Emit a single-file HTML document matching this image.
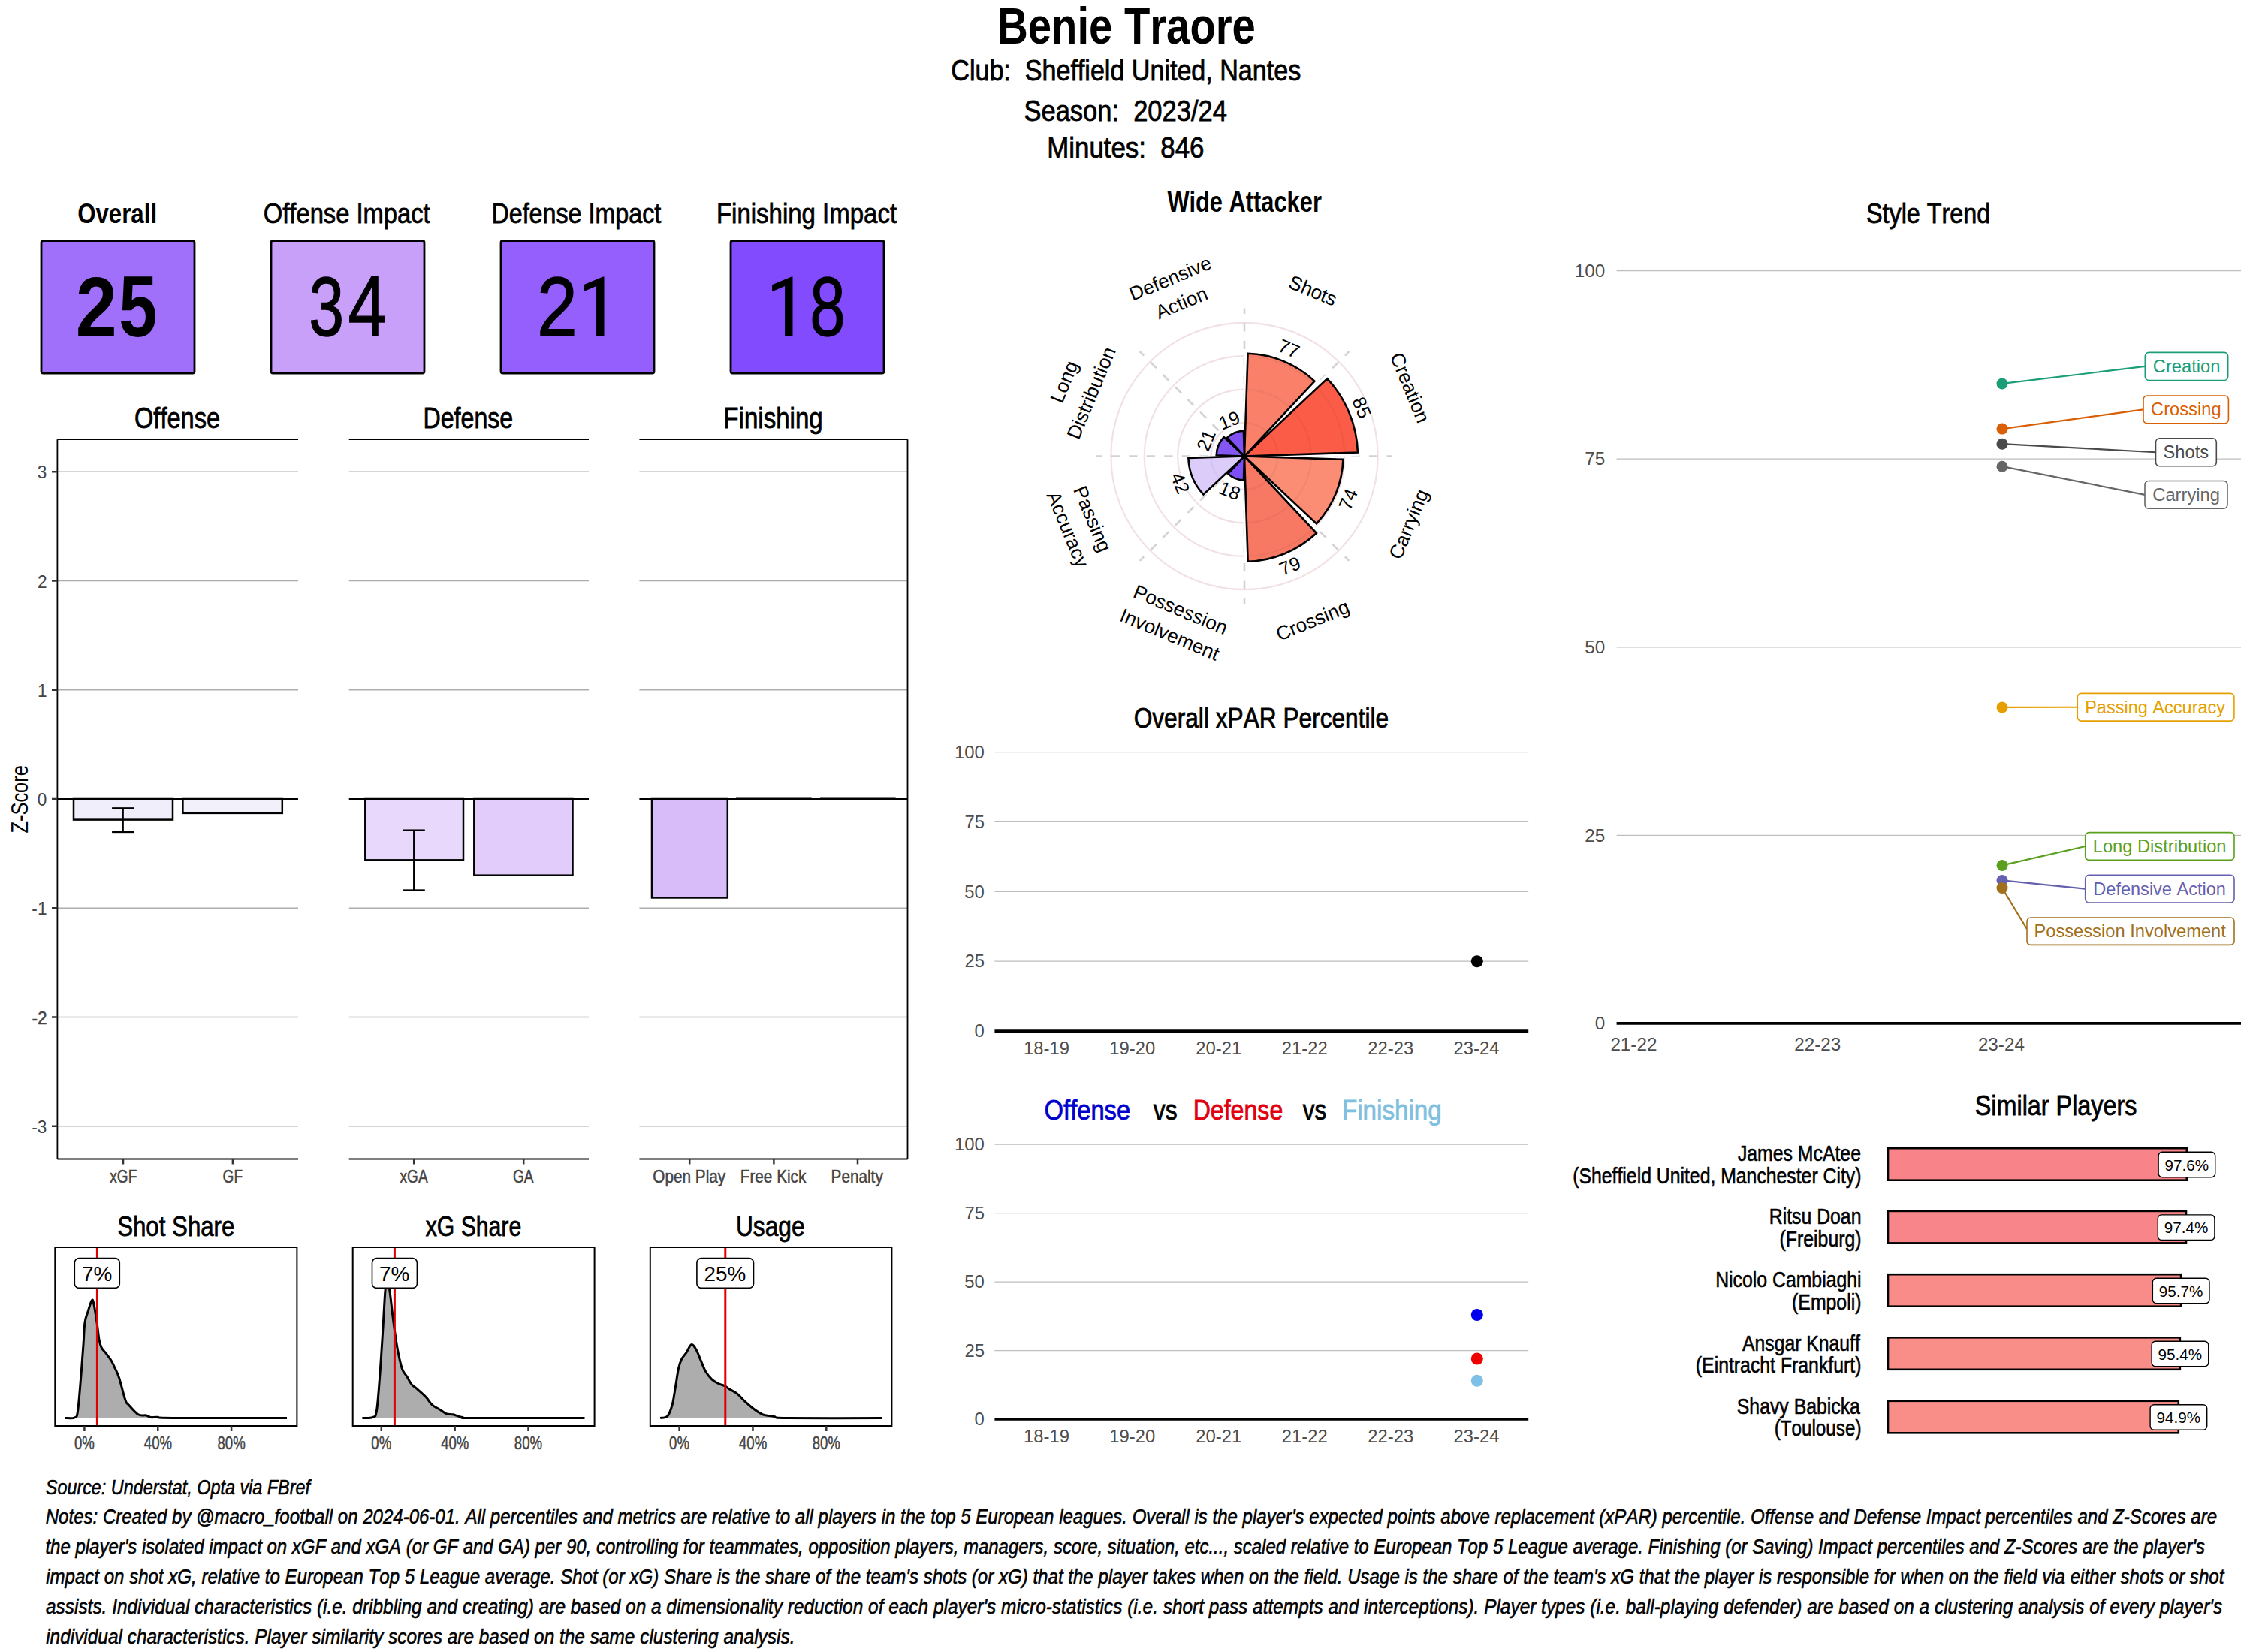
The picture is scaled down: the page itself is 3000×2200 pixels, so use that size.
<!DOCTYPE html>
<html><head><meta charset="utf-8"><style>
html,body{margin:0;padding:0;background:#fff;overflow:hidden;width:3000px;height:2200px;}
svg{display:block;}
text{font-family:"Liberation Sans", sans-serif;font-kerning:none;white-space:pre;}
</style></head><body>
<svg width="3000" height="2200" viewBox="0 0 3000 2200">
<rect width="3000" height="2200" fill="#fff"/>
<text x="1328.21" y="57.9" font-size="68.9" font-weight="bold" font-style="normal" fill="#000" textLength="343.67" lengthAdjust="spacingAndGlyphs" >Benie Traore</text>
<text x="1266.29" y="107" font-size="39.68" font-weight="normal" font-style="normal" fill="#000" textLength="465.95" lengthAdjust="spacingAndGlyphs"  stroke="#000" stroke-width="0.83">Club:  Sheffield United, Nantes</text>
<text x="1363.45" y="161" font-size="39.68" font-weight="normal" font-style="normal" fill="#000" textLength="270.41" lengthAdjust="spacingAndGlyphs"  stroke="#000" stroke-width="0.83">Season:  2023/24</text>
<text x="1394.21" y="210" font-size="39.68" font-weight="normal" font-style="normal" fill="#000" textLength="209.31" lengthAdjust="spacingAndGlyphs"  stroke="#000" stroke-width="0.83">Minutes:  846</text>
<rect x="55" y="320.5" width="204" height="176.5" rx="2.5" fill="#A070FA" stroke="#000" stroke-width="2.8" />
<text x="103.25" y="296.8" font-size="37.06" font-weight="bold" font-style="normal" fill="#000" textLength="105.81" lengthAdjust="spacingAndGlyphs" >Overall</text>
<text x="100.64" y="447.8" font-size="113.71" font-weight="bold" font-style="normal" fill="#000" textLength="55.04" lengthAdjust="spacingAndGlyphs" >2</text>
<text x="158.24" y="447.8" font-size="114.49" font-weight="bold" font-style="normal" fill="#000" textLength="51.17" lengthAdjust="spacingAndGlyphs" >5</text>
<rect x="361" y="320.5" width="204" height="176.5" rx="2.5" fill="#C8A0FA" stroke="#000" stroke-width="2.8" />
<text x="350.82" y="296.8" font-size="37.06" font-weight="normal" font-style="normal" fill="#000" textLength="221.83" lengthAdjust="spacingAndGlyphs"  stroke="#000" stroke-width="0.78">Offense Impact</text>
<text x="411.2" y="447.15" font-size="111.86" font-weight="normal" font-style="normal" fill="#000" textLength="46.81" lengthAdjust="spacingAndGlyphs"  stroke="#000" stroke-width="1.3">3</text>
<text x="463.4" y="447.15" font-size="112.61" font-weight="normal" font-style="normal" fill="#000" textLength="51.36" lengthAdjust="spacingAndGlyphs"  stroke="#000" stroke-width="1.3">4</text>
<rect x="667" y="320.5" width="204" height="176.5" rx="2.5" fill="#955FFD" stroke="#000" stroke-width="2.8" />
<text x="654.42" y="296.8" font-size="37.06" font-weight="normal" font-style="normal" fill="#000" textLength="225.85" lengthAdjust="spacingAndGlyphs"  stroke="#000" stroke-width="0.78">Defense Impact</text>
<text x="714.9" y="447.15" font-size="111.86" font-weight="normal" font-style="normal" fill="#000" textLength="53.91" lengthAdjust="spacingAndGlyphs"  stroke="#000" stroke-width="1.3">2</text>
<path d="M804.5,368.5 L804.5,447.8 L794.1,447.8 L794.1,381 L777.1,388.3 L777.1,379.3 L802.9,368.5 Z" fill="#000"/>
<rect x="973" y="320.5" width="204" height="176.5" rx="2.5" fill="#834BFE" stroke="#000" stroke-width="2.8" />
<text x="953.96" y="296.8" font-size="37.06" font-weight="normal" font-style="normal" fill="#000" textLength="240.13" lengthAdjust="spacingAndGlyphs"  stroke="#000" stroke-width="0.78">Finishing Impact</text>
<path d="M1055.5,368.5 L1055.5,447.8 L1045.1,447.8 L1045.1,381 L1028.1,388.3 L1028.1,379.3 L1053.9,368.5 Z" fill="#000"/>
<text x="1078.34" y="447.15" font-size="111.86" font-weight="normal" font-style="normal" fill="#000" textLength="47.42" lengthAdjust="spacingAndGlyphs"  stroke="#000" stroke-width="1.3">8</text>
<line x1="76.4" y1="628.25" x2="397" y2="628.25" stroke="#ADADAD" stroke-width="1.3" />
<line x1="76.4" y1="773.5" x2="397" y2="773.5" stroke="#ADADAD" stroke-width="1.3" />
<line x1="76.4" y1="918.75" x2="397" y2="918.75" stroke="#ADADAD" stroke-width="1.3" />
<line x1="76.4" y1="1209.25" x2="397" y2="1209.25" stroke="#ADADAD" stroke-width="1.3" />
<line x1="76.4" y1="1354.5" x2="397" y2="1354.5" stroke="#ADADAD" stroke-width="1.3" />
<line x1="76.4" y1="1499.75" x2="397" y2="1499.75" stroke="#ADADAD" stroke-width="1.3" />
<line x1="464.7" y1="628.25" x2="784" y2="628.25" stroke="#ADADAD" stroke-width="1.3" />
<line x1="464.7" y1="773.5" x2="784" y2="773.5" stroke="#ADADAD" stroke-width="1.3" />
<line x1="464.7" y1="918.75" x2="784" y2="918.75" stroke="#ADADAD" stroke-width="1.3" />
<line x1="464.7" y1="1209.25" x2="784" y2="1209.25" stroke="#ADADAD" stroke-width="1.3" />
<line x1="464.7" y1="1354.5" x2="784" y2="1354.5" stroke="#ADADAD" stroke-width="1.3" />
<line x1="464.7" y1="1499.75" x2="784" y2="1499.75" stroke="#ADADAD" stroke-width="1.3" />
<line x1="851.4" y1="628.25" x2="1208.5" y2="628.25" stroke="#ADADAD" stroke-width="1.3" />
<line x1="851.4" y1="773.5" x2="1208.5" y2="773.5" stroke="#ADADAD" stroke-width="1.3" />
<line x1="851.4" y1="918.75" x2="1208.5" y2="918.75" stroke="#ADADAD" stroke-width="1.3" />
<line x1="851.4" y1="1209.25" x2="1208.5" y2="1209.25" stroke="#ADADAD" stroke-width="1.3" />
<line x1="851.4" y1="1354.5" x2="1208.5" y2="1354.5" stroke="#ADADAD" stroke-width="1.3" />
<line x1="851.4" y1="1499.75" x2="1208.5" y2="1499.75" stroke="#ADADAD" stroke-width="1.3" />
<rect x="98" y="1064" width="132" height="27.6" rx="0" fill="#F0EEFA" stroke="#000" stroke-width="2.5" />
<rect x="243.4" y="1064" width="132.4" height="18.88" rx="0" fill="#F2F0FA" stroke="#000" stroke-width="2.5" />
<rect x="486.3" y="1064" width="130.7" height="81.34" rx="0" fill="#E8D8FC" stroke="#000" stroke-width="2.5" />
<rect x="631.3" y="1064" width="131.2" height="101.67" rx="0" fill="#E2CCFB" stroke="#000" stroke-width="2.5" />
<rect x="868" y="1064" width="100.8" height="131.45" rx="0" fill="#D8BCFA" stroke="#000" stroke-width="2.5" />
<line x1="980" y1="1064" x2="1080.6" y2="1064" stroke="#000" stroke-width="3" />
<line x1="1092" y1="1064" x2="1192.6" y2="1064" stroke="#000" stroke-width="3" />
<line x1="76.4" y1="1064" x2="397" y2="1064" stroke="#000" stroke-width="2.2" />
<line x1="464.7" y1="1064" x2="784" y2="1064" stroke="#000" stroke-width="2.2" />
<line x1="851.4" y1="1064" x2="1208.5" y2="1064" stroke="#000" stroke-width="2.2" />
<line x1="163.6" y1="1076.4" x2="163.6" y2="1107.9" stroke="#000" stroke-width="2.5" />
<line x1="149.1" y1="1076.4" x2="178.1" y2="1076.4" stroke="#000" stroke-width="2.5" />
<line x1="149.1" y1="1107.9" x2="178.1" y2="1107.9" stroke="#000" stroke-width="2.5" />
<line x1="551.3" y1="1105.7" x2="551.3" y2="1185.6" stroke="#000" stroke-width="2.5" />
<line x1="536.8" y1="1105.7" x2="565.8" y2="1105.7" stroke="#000" stroke-width="2.5" />
<line x1="536.8" y1="1185.6" x2="565.8" y2="1185.6" stroke="#000" stroke-width="2.5" />
<line x1="76.4" y1="585.2" x2="76.4" y2="1543.5" stroke="#000" stroke-width="1.8" />
<line x1="76.4" y1="585.2" x2="397" y2="585.2" stroke="#000" stroke-width="1.8" />
<line x1="76.4" y1="1543.5" x2="397" y2="1543.5" stroke="#000" stroke-width="1.8" />
<line x1="464.7" y1="585.2" x2="784" y2="585.2" stroke="#000" stroke-width="1.8" />
<line x1="464.7" y1="1543.5" x2="784" y2="1543.5" stroke="#000" stroke-width="1.8" />
<line x1="851.4" y1="585.2" x2="1208.5" y2="585.2" stroke="#000" stroke-width="1.8" />
<line x1="851.4" y1="1543.5" x2="1208.5" y2="1543.5" stroke="#000" stroke-width="1.8" />
<line x1="1208.5" y1="585.2" x2="1208.5" y2="1543.5" stroke="#000" stroke-width="1.8" />
<line x1="69" y1="628.25" x2="76.4" y2="628.25" stroke="#333" stroke-width="2.5" />
<text x="49.84" y="637.25" font-size="23.84" font-weight="normal" font-style="normal" fill="#444" textLength="12.59" lengthAdjust="spacingAndGlyphs" >3</text>
<line x1="69" y1="773.5" x2="76.4" y2="773.5" stroke="#333" stroke-width="2.5" />
<text x="50.06" y="782.5" font-size="23.84" font-weight="normal" font-style="normal" fill="#444" textLength="12.59" lengthAdjust="spacingAndGlyphs" >2</text>
<line x1="69" y1="918.75" x2="76.4" y2="918.75" stroke="#333" stroke-width="2.5" />
<text x="49.95" y="927.75" font-size="23.84" font-weight="normal" font-style="normal" fill="#444" textLength="12.59" lengthAdjust="spacingAndGlyphs" >1</text>
<line x1="69" y1="1064" x2="76.4" y2="1064" stroke="#333" stroke-width="2.5" />
<text x="49.72" y="1073" font-size="23.84" font-weight="normal" font-style="normal" fill="#444" textLength="12.59" lengthAdjust="spacingAndGlyphs" >0</text>
<line x1="69" y1="1209.25" x2="76.4" y2="1209.25" stroke="#333" stroke-width="2.5" />
<text x="42.36" y="1218.25" font-size="23.84" font-weight="normal" font-style="normal" fill="#444" textLength="20.14" lengthAdjust="spacingAndGlyphs" >-1</text>
<line x1="69" y1="1354.5" x2="76.4" y2="1354.5" stroke="#333" stroke-width="2.5" />
<text x="42.48" y="1363.5" font-size="23.84" font-weight="normal" font-style="normal" fill="#444" textLength="20.14" lengthAdjust="spacingAndGlyphs"  stroke="#444" stroke-width="0.5">-2</text>
<line x1="69" y1="1499.75" x2="76.4" y2="1499.75" stroke="#333" stroke-width="2.5" />
<text x="42.25" y="1508.75" font-size="23.84" font-weight="normal" font-style="normal" fill="#444" textLength="20.14" lengthAdjust="spacingAndGlyphs" >-3</text>
<line x1="164" y1="1543.5" x2="164" y2="1550.5" stroke="#333" stroke-width="2.5" />
<text x="146.27" y="1574.5" font-size="23.84" font-weight="normal" font-style="normal" fill="#444" textLength="36.02" lengthAdjust="spacingAndGlyphs"  stroke="#444" stroke-width="0.5">xGF</text>
<line x1="309.9" y1="1543.5" x2="309.9" y2="1550.5" stroke="#333" stroke-width="2.5" />
<text x="296.55" y="1574.5" font-size="23.84" font-weight="normal" font-style="normal" fill="#444" textLength="26.48" lengthAdjust="spacingAndGlyphs"  stroke="#444" stroke-width="0.5">GF</text>
<line x1="551.2" y1="1543.5" x2="551.2" y2="1550.5" stroke="#333" stroke-width="2.5" />
<text x="532.56" y="1574.5" font-size="23.84" font-weight="normal" font-style="normal" fill="#444" textLength="37.09" lengthAdjust="spacingAndGlyphs"  stroke="#444" stroke-width="0.5">xGA</text>
<line x1="697.2" y1="1543.5" x2="697.2" y2="1550.5" stroke="#333" stroke-width="2.5" />
<text x="682.95" y="1574.5" font-size="23.84" font-weight="normal" font-style="normal" fill="#444" textLength="27.55" lengthAdjust="spacingAndGlyphs"  stroke="#444" stroke-width="0.5">GA</text>
<line x1="918.2" y1="1543.5" x2="918.2" y2="1550.5" stroke="#333" stroke-width="2.5" />
<text x="869.31" y="1574.5" font-size="23.84" font-weight="normal" font-style="normal" fill="#444" textLength="96.84" lengthAdjust="spacingAndGlyphs"  stroke="#444" stroke-width="0.5">Open Play</text>
<line x1="1030.4" y1="1543.5" x2="1030.4" y2="1550.5" stroke="#333" stroke-width="2.5" />
<text x="985.76" y="1574.5" font-size="23.84" font-weight="normal" font-style="normal" fill="#444" textLength="87.58" lengthAdjust="spacingAndGlyphs"  stroke="#444" stroke-width="0.5">Free Kick</text>
<line x1="1142" y1="1543.5" x2="1142" y2="1550.5" stroke="#333" stroke-width="2.5" />
<text x="1106.59" y="1574.5" font-size="23.84" font-weight="normal" font-style="normal" fill="#444" textLength="69.17" lengthAdjust="spacingAndGlyphs"  stroke="#444" stroke-width="0.5">Penalty</text>
<text x="179.03" y="570" font-size="38.52" font-weight="normal" font-style="normal" fill="#000" textLength="114.05" lengthAdjust="spacingAndGlyphs"  stroke="#000" stroke-width="0.81">Offense</text>
<text x="563.43" y="570" font-size="38.52" font-weight="normal" font-style="normal" fill="#000" textLength="119.85" lengthAdjust="spacingAndGlyphs"  stroke="#000" stroke-width="0.81">Defense</text>
<text x="963.35" y="570" font-size="38.52" font-weight="normal" font-style="normal" fill="#000" textLength="132.4" lengthAdjust="spacingAndGlyphs"  stroke="#000" stroke-width="0.81">Finishing</text>
<g transform="translate(26,1064.5) rotate(-90)"><text x="-45.06" y="10.69" font-size="31" font-weight="normal" fill="#000" textLength="90.4" lengthAdjust="spacingAndGlyphs">Z-Score</text></g>
<path d="M87,1888.5 C89.05,1888.42 96.55,1889.48 99.3,1888 C102.05,1886.52 102.08,1888.77 103.5,1879.6 C104.92,1870.43 106.55,1847.83 107.8,1833 C109.05,1818.17 110.13,1802.6 111,1790.6 C111.87,1778.6 111.95,1768.43 113,1761 C114.05,1753.57 115.77,1750.87 117.3,1746 C118.83,1741.13 120.97,1733.53 122.2,1731.8 C123.43,1730.07 123.57,1730.73 124.7,1735.6 C125.83,1740.47 127.78,1752.93 129,1761 C130.22,1769.07 130.95,1778.33 132,1784 C133.05,1789.67 133.68,1791.83 135.3,1795 C136.92,1798.17 139.58,1800.2 141.7,1803 C143.82,1805.8 146.23,1808.92 148,1811.8 C149.77,1814.68 150.53,1816.43 152.3,1820.3 C154.07,1824.17 156.15,1827.58 158.6,1835 C161.05,1842.42 164.88,1858.8 167,1864.8 C169.12,1870.8 168.47,1867.83 171.3,1871 C174.13,1874.17 180.12,1881.47 184,1883.8 C187.88,1886.13 191.77,1884.37 194.6,1885 C197.43,1885.63 198.52,1887.23 201,1887.6 C203.48,1887.97 204.67,1887.05 209.5,1887.2 C214.33,1887.35 201.25,1888.28 230,1888.5 C258.75,1888.72 356.67,1888.5 382,1888.5 L382,1888.5 L87,1888.5 Z" fill="#ADADAD" stroke="none"/>
<path d="M87,1888.5 C89.05,1888.42 96.55,1889.48 99.3,1888 C102.05,1886.52 102.08,1888.77 103.5,1879.6 C104.92,1870.43 106.55,1847.83 107.8,1833 C109.05,1818.17 110.13,1802.6 111,1790.6 C111.87,1778.6 111.95,1768.43 113,1761 C114.05,1753.57 115.77,1750.87 117.3,1746 C118.83,1741.13 120.97,1733.53 122.2,1731.8 C123.43,1730.07 123.57,1730.73 124.7,1735.6 C125.83,1740.47 127.78,1752.93 129,1761 C130.22,1769.07 130.95,1778.33 132,1784 C133.05,1789.67 133.68,1791.83 135.3,1795 C136.92,1798.17 139.58,1800.2 141.7,1803 C143.82,1805.8 146.23,1808.92 148,1811.8 C149.77,1814.68 150.53,1816.43 152.3,1820.3 C154.07,1824.17 156.15,1827.58 158.6,1835 C161.05,1842.42 164.88,1858.8 167,1864.8 C169.12,1870.8 168.47,1867.83 171.3,1871 C174.13,1874.17 180.12,1881.47 184,1883.8 C187.88,1886.13 191.77,1884.37 194.6,1885 C197.43,1885.63 198.52,1887.23 201,1887.6 C203.48,1887.97 204.67,1887.05 209.5,1887.2 C214.33,1887.35 201.25,1888.28 230,1888.5 C258.75,1888.72 356.67,1888.5 382,1888.5" fill="none" stroke="#000" stroke-width="3"/>
<line x1="129.4" y1="1661" x2="129.4" y2="1899" stroke="#E00000" stroke-width="3" />
<rect x="99.3" y="1675.6" width="60" height="39.8" rx="6" fill="#fff" stroke="#000" stroke-width="1.6" />
<text x="108.93" y="1706" font-size="27.91" font-weight="normal" font-style="normal" fill="#000" textLength="40.33" lengthAdjust="spacingAndGlyphs" >7%</text>
<rect x="73.3" y="1661" width="322.1" height="238" rx="0" fill="none" stroke="#000" stroke-width="2" />
<text x="156.2" y="1645.5" font-size="37.06" font-weight="normal" font-style="normal" fill="#000" textLength="156.17" lengthAdjust="spacingAndGlyphs"  stroke="#000" stroke-width="0.78">Shot Share</text>
<line x1="112.4" y1="1899" x2="112.4" y2="1906" stroke="#333" stroke-width="2.5" />
<text x="98.92" y="1930.4" font-size="23.84" font-weight="normal" font-style="normal" fill="#444" textLength="26.87" lengthAdjust="spacingAndGlyphs"  stroke="#444" stroke-width="0.5">0%</text>
<line x1="210.25" y1="1899" x2="210.25" y2="1906" stroke="#333" stroke-width="2.5" />
<text x="191.8" y="1930.4" font-size="23.84" font-weight="normal" font-style="normal" fill="#444" textLength="37.21" lengthAdjust="spacingAndGlyphs"  stroke="#444" stroke-width="0.5">40%</text>
<line x1="308.1" y1="1899" x2="308.1" y2="1906" stroke="#333" stroke-width="2.5" />
<text x="289.46" y="1930.4" font-size="23.84" font-weight="normal" font-style="normal" fill="#444" textLength="37.21" lengthAdjust="spacingAndGlyphs"  stroke="#444" stroke-width="0.5">80%</text>
<path d="M482.4,1888.5 C484.68,1888.35 492.93,1889.08 496.1,1887.6 C499.27,1886.12 499.8,1888.7 501.4,1879.6 C503,1870.5 504.28,1851.35 505.7,1833 C507.12,1814.65 508.68,1788.57 509.9,1769.5 C511.12,1750.43 512.02,1728.52 513,1718.6 C513.98,1708.68 514.83,1710 515.8,1710 C516.77,1710 517.48,1710.45 518.8,1718.6 C520.12,1726.75 522,1746.18 523.7,1758.9 C525.4,1771.62 527.07,1784.32 529,1794.9 C530.93,1805.48 533.18,1816.05 535.3,1822.4 C537.42,1828.75 539.58,1829.47 541.7,1833 C543.82,1836.53 545.88,1840.95 548,1843.6 C550.12,1846.25 551.22,1846.08 554.4,1848.9 C557.58,1851.72 563.57,1856.8 567.1,1860.5 C570.63,1864.2 572.42,1868.27 575.6,1871.1 C578.78,1873.93 583.03,1875.55 586.2,1877.5 C589.37,1879.45 591.78,1881.75 594.6,1882.8 C597.42,1883.85 599.57,1883 603.1,1883.8 C606.63,1884.6 611.22,1886.82 615.8,1887.6 C620.38,1888.38 603.48,1888.35 630.6,1888.5 C657.72,1888.65 753.85,1888.5 778.5,1888.5 L778.5,1888.5 L482.4,1888.5 Z" fill="#ADADAD" stroke="none"/>
<path d="M482.4,1888.5 C484.68,1888.35 492.93,1889.08 496.1,1887.6 C499.27,1886.12 499.8,1888.7 501.4,1879.6 C503,1870.5 504.28,1851.35 505.7,1833 C507.12,1814.65 508.68,1788.57 509.9,1769.5 C511.12,1750.43 512.02,1728.52 513,1718.6 C513.98,1708.68 514.83,1710 515.8,1710 C516.77,1710 517.48,1710.45 518.8,1718.6 C520.12,1726.75 522,1746.18 523.7,1758.9 C525.4,1771.62 527.07,1784.32 529,1794.9 C530.93,1805.48 533.18,1816.05 535.3,1822.4 C537.42,1828.75 539.58,1829.47 541.7,1833 C543.82,1836.53 545.88,1840.95 548,1843.6 C550.12,1846.25 551.22,1846.08 554.4,1848.9 C557.58,1851.72 563.57,1856.8 567.1,1860.5 C570.63,1864.2 572.42,1868.27 575.6,1871.1 C578.78,1873.93 583.03,1875.55 586.2,1877.5 C589.37,1879.45 591.78,1881.75 594.6,1882.8 C597.42,1883.85 599.57,1883 603.1,1883.8 C606.63,1884.6 611.22,1886.82 615.8,1887.6 C620.38,1888.38 603.48,1888.35 630.6,1888.5 C657.72,1888.65 753.85,1888.5 778.5,1888.5" fill="none" stroke="#000" stroke-width="3"/>
<line x1="525.4" y1="1661" x2="525.4" y2="1899" stroke="#E00000" stroke-width="3" />
<rect x="495.5" y="1675.6" width="59.9" height="39.8" rx="6" fill="#fff" stroke="#000" stroke-width="1.6" />
<text x="505.08" y="1706" font-size="27.91" font-weight="normal" font-style="normal" fill="#000" textLength="40.33" lengthAdjust="spacingAndGlyphs" >7%</text>
<rect x="469.7" y="1661" width="321.9" height="238" rx="0" fill="none" stroke="#000" stroke-width="2" />
<text x="566.7" y="1645.5" font-size="37.06" font-weight="normal" font-style="normal" fill="#000" textLength="127.49" lengthAdjust="spacingAndGlyphs"  stroke="#000" stroke-width="0.78">xG Share</text>
<line x1="507.8" y1="1899" x2="507.8" y2="1906" stroke="#333" stroke-width="2.5" />
<text x="494.32" y="1930.4" font-size="23.84" font-weight="normal" font-style="normal" fill="#444" textLength="26.87" lengthAdjust="spacingAndGlyphs"  stroke="#444" stroke-width="0.5">0%</text>
<line x1="605.65" y1="1899" x2="605.65" y2="1906" stroke="#333" stroke-width="2.5" />
<text x="587.2" y="1930.4" font-size="23.84" font-weight="normal" font-style="normal" fill="#444" textLength="37.21" lengthAdjust="spacingAndGlyphs"  stroke="#444" stroke-width="0.5">40%</text>
<line x1="703.5" y1="1899" x2="703.5" y2="1906" stroke="#333" stroke-width="2.5" />
<text x="684.86" y="1930.4" font-size="23.84" font-weight="normal" font-style="normal" fill="#444" textLength="37.21" lengthAdjust="spacingAndGlyphs"  stroke="#444" stroke-width="0.5">80%</text>
<path d="M879.2,1888.5 C880.78,1888.08 886.05,1888.92 888.7,1886 C891.35,1883.08 893.33,1877.37 895.1,1871 C896.87,1864.63 897.9,1855.9 899.3,1847.8 C900.7,1839.7 902.08,1828.75 903.5,1822.4 C904.92,1816.05 906.03,1813.23 907.8,1809.7 C909.57,1806.17 911.98,1804.38 914.1,1801.2 C916.22,1798.02 918.38,1791.3 920.5,1790.6 C922.62,1789.9 924.68,1793.47 926.8,1797 C928.92,1800.53 931.07,1806.87 933.2,1811.8 C935.33,1816.73 937.13,1822.37 939.6,1826.6 C942.07,1830.83 945.18,1834.55 948,1837.2 C950.82,1839.85 953.67,1841.08 956.5,1842.5 C959.33,1843.92 962.53,1844.45 965,1845.7 C967.47,1846.95 968.48,1848.23 971.3,1850 C974.12,1851.77 978.37,1853.48 981.9,1856.3 C985.43,1859.12 988.62,1863.37 992.5,1866.9 C996.38,1870.43 1001.32,1874.68 1005.2,1877.5 C1009.08,1880.32 1011.57,1882.32 1015.8,1883.8 C1020.03,1885.28 1025.3,1885.62 1030.6,1886.4 C1035.9,1887.18 1023.65,1888.15 1047.6,1888.5 C1071.55,1888.85 1153.18,1888.5 1174.3,1888.5 L1174.3,1888.5 L879.2,1888.5 Z" fill="#ADADAD" stroke="none"/>
<path d="M879.2,1888.5 C880.78,1888.08 886.05,1888.92 888.7,1886 C891.35,1883.08 893.33,1877.37 895.1,1871 C896.87,1864.63 897.9,1855.9 899.3,1847.8 C900.7,1839.7 902.08,1828.75 903.5,1822.4 C904.92,1816.05 906.03,1813.23 907.8,1809.7 C909.57,1806.17 911.98,1804.38 914.1,1801.2 C916.22,1798.02 918.38,1791.3 920.5,1790.6 C922.62,1789.9 924.68,1793.47 926.8,1797 C928.92,1800.53 931.07,1806.87 933.2,1811.8 C935.33,1816.73 937.13,1822.37 939.6,1826.6 C942.07,1830.83 945.18,1834.55 948,1837.2 C950.82,1839.85 953.67,1841.08 956.5,1842.5 C959.33,1843.92 962.53,1844.45 965,1845.7 C967.47,1846.95 968.48,1848.23 971.3,1850 C974.12,1851.77 978.37,1853.48 981.9,1856.3 C985.43,1859.12 988.62,1863.37 992.5,1866.9 C996.38,1870.43 1001.32,1874.68 1005.2,1877.5 C1009.08,1880.32 1011.57,1882.32 1015.8,1883.8 C1020.03,1885.28 1025.3,1885.62 1030.6,1886.4 C1035.9,1887.18 1023.65,1888.15 1047.6,1888.5 C1071.55,1888.85 1153.18,1888.5 1174.3,1888.5" fill="none" stroke="#000" stroke-width="3"/>
<line x1="965.8" y1="1661" x2="965.8" y2="1899" stroke="#E00000" stroke-width="3" />
<rect x="927.9" y="1675.6" width="75.6" height="39.8" rx="6" fill="#fff" stroke="#000" stroke-width="1.6" />
<text x="937.58" y="1706" font-size="27.91" font-weight="normal" font-style="normal" fill="#000" textLength="55.86" lengthAdjust="spacingAndGlyphs" >25%</text>
<rect x="865.8" y="1661" width="321.6" height="238" rx="0" fill="none" stroke="#000" stroke-width="2" />
<text x="979.92" y="1645.5" font-size="37.06" font-weight="normal" font-style="normal" fill="#000" textLength="91.67" lengthAdjust="spacingAndGlyphs"  stroke="#000" stroke-width="0.78">Usage</text>
<line x1="904.6" y1="1899" x2="904.6" y2="1906" stroke="#333" stroke-width="2.5" />
<text x="891.12" y="1930.4" font-size="23.84" font-weight="normal" font-style="normal" fill="#444" textLength="26.87" lengthAdjust="spacingAndGlyphs"  stroke="#444" stroke-width="0.5">0%</text>
<line x1="1002.45" y1="1899" x2="1002.45" y2="1906" stroke="#333" stroke-width="2.5" />
<text x="984" y="1930.4" font-size="23.84" font-weight="normal" font-style="normal" fill="#444" textLength="37.21" lengthAdjust="spacingAndGlyphs"  stroke="#444" stroke-width="0.5">40%</text>
<line x1="1100.3" y1="1899" x2="1100.3" y2="1906" stroke="#333" stroke-width="2.5" />
<text x="1081.66" y="1930.4" font-size="23.84" font-weight="normal" font-style="normal" fill="#444" textLength="37.21" lengthAdjust="spacingAndGlyphs"  stroke="#444" stroke-width="0.5">80%</text>
<text x="1554.4" y="281.9" font-size="37.94" font-weight="bold" font-style="normal" fill="#000" textLength="205.5" lengthAdjust="spacingAndGlyphs" >Wide Attacker</text>
<circle cx="1657" cy="607.5" r="44.42" fill="none" stroke="#F1E1E4" stroke-width="2.2"/>
<circle cx="1657" cy="607.5" r="88.85" fill="none" stroke="#F1E1E4" stroke-width="2.2"/>
<circle cx="1657" cy="607.5" r="133.28" fill="none" stroke="#F1E1E4" stroke-width="2.2"/>
<circle cx="1657" cy="607.5" r="177.7" fill="none" stroke="#F1E1E4" stroke-width="2.2"/>
<line x1="1657" y1="607.5" x2="1657" y2="410.5" stroke="#D2D2D2" stroke-width="2.6" stroke-dasharray="11.3,12.2" stroke-dashoffset="-1.4"/>
<line x1="1657" y1="607.5" x2="1796.3" y2="468.2" stroke="#D2D2D2" stroke-width="2.6" stroke-dasharray="11.3,12.2" stroke-dashoffset="-1.4"/>
<line x1="1657" y1="607.5" x2="1854" y2="607.5" stroke="#D2D2D2" stroke-width="2.6" stroke-dasharray="11.3,12.2" stroke-dashoffset="-1.4"/>
<line x1="1657" y1="607.5" x2="1796.3" y2="746.8" stroke="#D2D2D2" stroke-width="2.6" stroke-dasharray="11.3,12.2" stroke-dashoffset="-1.4"/>
<line x1="1657" y1="607.5" x2="1657" y2="804.5" stroke="#D2D2D2" stroke-width="2.6" stroke-dasharray="11.3,12.2" stroke-dashoffset="-1.4"/>
<line x1="1657" y1="607.5" x2="1517.7" y2="746.8" stroke="#D2D2D2" stroke-width="2.6" stroke-dasharray="11.3,12.2" stroke-dashoffset="-1.4"/>
<line x1="1657" y1="607.5" x2="1460" y2="607.5" stroke="#D2D2D2" stroke-width="2.6" stroke-dasharray="11.3,12.2" stroke-dashoffset="-1.4"/>
<line x1="1657" y1="607.5" x2="1517.7" y2="468.2" stroke="#D2D2D2" stroke-width="2.6" stroke-dasharray="11.3,12.2" stroke-dashoffset="-1.4"/>
<path d="M1657,607.5 L1657,469.67 A137.83,137.83 0 0 1 1754.46,510.04 Z" fill="#fff"/>
<path d="M1657,607.5 L1764.51,499.99 A152.04,152.04 0 0 1 1809.05,607.5 Z" fill="#fff"/>
<path d="M1657,607.5 L1789.5,607.5 A132.5,132.5 0 0 1 1750.69,701.19 Z" fill="#fff"/>
<path d="M1657,607.5 L1756.97,707.47 A141.38,141.38 0 0 1 1657,748.88 Z" fill="#fff"/>
<path d="M1657,607.5 L1657,640.49 A32.99,32.99 0 0 1 1633.68,630.82 Z" fill="#fff"/>
<path d="M1657,607.5 L1603.52,660.98 A75.63,75.63 0 0 1 1581.37,607.5 Z" fill="#fff"/>
<path d="M1657,607.5 L1618.68,607.5 A38.32,38.32 0 0 1 1629.91,580.41 Z" fill="#fff"/>
<path d="M1657,607.5 L1632.42,582.92 A34.76,34.76 0 0 1 1657,572.74 Z" fill="#fff"/>
<path d="M1657,607.5 L1661.54,470.75 A136.83,136.83 0 0 1 1750.49,507.59 Z" fill="#FA806A" stroke="#000" stroke-width="2.6" stroke-linejoin="miter"/>
<path d="M1657,607.5 L1767.29,504.29 A151.04,151.04 0 0 1 1807.96,602.49 Z" fill="#FA5C47" stroke="#000" stroke-width="2.6" stroke-linejoin="miter"/>
<path d="M1657,607.5 L1788.43,611.86 A131.5,131.5 0 0 1 1753.01,697.35 Z" fill="#FA8D74" stroke="#000" stroke-width="2.6" stroke-linejoin="miter"/>
<path d="M1657,607.5 L1752.92,710 A140.38,140.38 0 0 1 1661.65,747.81 Z" fill="#F87963" stroke="#000" stroke-width="2.6" stroke-linejoin="miter"/>
<path d="M1657,607.5 L1655.94,639.47 A31.99,31.99 0 0 1 1635.14,630.85 Z" fill="#7E4FF6" stroke="#000" stroke-width="2.6" stroke-linejoin="miter"/>
<path d="M1657,607.5 L1602.51,658.5 A74.63,74.63 0 0 1 1582.41,609.97 Z" fill="#DCCCFA" stroke="#000" stroke-width="2.6" stroke-linejoin="miter"/>
<path d="M1657,607.5 L1619.7,606.26 A37.32,37.32 0 0 1 1629.75,582 Z" fill="#8457F5" stroke="#000" stroke-width="2.6" stroke-linejoin="miter"/>
<path d="M1657,607.5 L1633.93,582.85 A33.76,33.76 0 0 1 1655.88,573.76 Z" fill="#8052F5" stroke="#000" stroke-width="2.6" stroke-linejoin="miter"/>
<clipPath id="barclip"><path d="M1657,607.5 L1661.49,472.05 A135.53,135.53 0 0 1 1749.6,508.54 Z"/><path d="M1657,607.5 L1766.34,505.18 A149.74,149.74 0 0 1 1806.66,602.54 Z"/><path d="M1657,607.5 L1787.13,611.82 A130.2,130.2 0 0 1 1752.07,696.46 Z"/><path d="M1657,607.5 L1752.03,709.05 A139.08,139.08 0 0 1 1661.61,746.51 Z"/><path d="M1657,607.5 L1655.98,638.17 A30.69,30.69 0 0 1 1636.03,629.91 Z"/><path d="M1657,607.5 L1603.45,657.61 A73.33,73.33 0 0 1 1583.71,609.93 Z"/><path d="M1657,607.5 L1621,606.31 A36.02,36.02 0 0 1 1630.7,582.89 Z"/><path d="M1657,607.5 L1634.82,583.8 A32.46,32.46 0 0 1 1655.92,575.05 Z"/></clipPath>
<circle cx="1657" cy="607.5" r="44.42" fill="none" stroke="#000" stroke-opacity="0.045" stroke-width="2.2" clip-path="url(#barclip)"/>
<circle cx="1657" cy="607.5" r="88.85" fill="none" stroke="#000" stroke-opacity="0.045" stroke-width="2.2" clip-path="url(#barclip)"/>
<circle cx="1657" cy="607.5" r="133.28" fill="none" stroke="#000" stroke-opacity="0.045" stroke-width="2.2" clip-path="url(#barclip)"/>
<g transform="translate(1716.25,464.46) rotate(22.5)"><text x="-13.88" y="8.62" font-size="25" font-weight="normal" fill="#000" textLength="27.81" lengthAdjust="spacingAndGlyphs">77</text></g>
<g transform="translate(1748.46,386.69) rotate(22.5)"><text x="-33.34" y="9.29" font-size="26" font-weight="normal" fill="#000" textLength="66.49" lengthAdjust="spacingAndGlyphs">Shots</text></g>
<g transform="translate(1813.18,542.81) rotate(67.5)"><text x="-13.88" y="8.62" font-size="25" font-weight="normal" fill="#000" textLength="27.81" lengthAdjust="spacingAndGlyphs">85</text></g>
<g transform="translate(1877.81,516.04) rotate(67.5)"><text x="-49.01" y="9.29" font-size="26" font-weight="normal" fill="#000" textLength="98.28" lengthAdjust="spacingAndGlyphs">Creation</text></g>
<g transform="translate(1795.12,664.71) rotate(-67.5)"><text x="-14.19" y="8.62" font-size="25" font-weight="normal" fill="#000" textLength="27.81" lengthAdjust="spacingAndGlyphs">74</text></g>
<g transform="translate(1877.81,698.96) rotate(-67.5)"><text x="-49.01" y="6.7" font-size="26" font-weight="normal" fill="#000" textLength="98.25" lengthAdjust="spacingAndGlyphs">Carrying</text></g>
<g transform="translate(1717.61,753.83) rotate(-22.5)"><text x="-13.94" y="8.62" font-size="25" font-weight="normal" fill="#000" textLength="27.81" lengthAdjust="spacingAndGlyphs">79</text></g>
<g transform="translate(1748.46,828.31) rotate(-22.5)"><text x="-51.15" y="6.7" font-size="26" font-weight="normal" fill="#000" textLength="102.59" lengthAdjust="spacingAndGlyphs">Crossing</text></g>
<g transform="translate(1637.87,653.68) rotate(22.5)"><text x="-14.31" y="8.62" font-size="25" font-weight="normal" fill="#000" textLength="27.81" lengthAdjust="spacingAndGlyphs">18</text></g>
<g transform="translate(1572.43,811.68) rotate(22.5)"><text x="-66.75" y="9.29" font-size="26" font-weight="normal" fill="#000" textLength="132.96" lengthAdjust="spacingAndGlyphs">Possession</text></g>
<g transform="translate(1558.65,844.94) rotate(22.5)"><text x="-71.17" y="9.29" font-size="26" font-weight="normal" fill="#000" textLength="140.18" lengthAdjust="spacingAndGlyphs">Involvement</text></g>
<g transform="translate(1571.42,642.95) rotate(67.5)"><text x="-13.5" y="8.75" font-size="25" font-weight="normal" fill="#000" textLength="27.81" lengthAdjust="spacingAndGlyphs">42</text></g>
<g transform="translate(1452.82,692.07) rotate(67.5)"><text x="-46.48" y="6.7" font-size="26" font-weight="normal" fill="#000" textLength="92.5" lengthAdjust="spacingAndGlyphs">Passing</text></g>
<g transform="translate(1419.56,705.85) rotate(67.5)"><text x="-53.43" y="6.24" font-size="26" font-weight="normal" fill="#000" textLength="106.92" lengthAdjust="spacingAndGlyphs">Accuracy</text></g>
<g transform="translate(1605.89,586.33) rotate(-67.5)"><text x="-13.94" y="8.75" font-size="25" font-weight="normal" fill="#000" textLength="27.81" lengthAdjust="spacingAndGlyphs">21</text></g>
<g transform="translate(1419.56,509.15) rotate(-67.5)"><text x="-29.19" y="6.24" font-size="26" font-weight="normal" fill="#000" textLength="57.84" lengthAdjust="spacingAndGlyphs">Long</text></g>
<g transform="translate(1452.82,522.93) rotate(-67.5)"><text x="-65.26" y="9.29" font-size="26" font-weight="normal" fill="#000" textLength="130.05" lengthAdjust="spacingAndGlyphs">Distribution</text></g>
<g transform="translate(1637.19,559.68) rotate(-22.5)"><text x="-14.25" y="8.62" font-size="25" font-weight="normal" fill="#000" textLength="27.81" lengthAdjust="spacingAndGlyphs">19</text></g>
<g transform="translate(1558.65,370.06) rotate(-22.5)"><text x="-58.31" y="9.29" font-size="26" font-weight="normal" fill="#000" textLength="115.62" lengthAdjust="spacingAndGlyphs">Defensive</text></g>
<g transform="translate(1572.43,403.32) rotate(-22.5)"><text x="-35.36" y="9.29" font-size="26" font-weight="normal" fill="#000" textLength="72.26" lengthAdjust="spacingAndGlyphs">Action</text></g>
<line x1="1324.4" y1="1001.6" x2="2035.2" y2="1001.6" stroke="#BEBEBE" stroke-width="1.3" />
<text x="1271.05" y="1009.8" font-size="23.84" font-weight="normal" font-style="normal" fill="#4D4D4D" textLength="39.77" lengthAdjust="spacingAndGlyphs" >100</text>
<line x1="1324.4" y1="1094.47" x2="2035.2" y2="1094.47" stroke="#BEBEBE" stroke-width="1.3" />
<text x="1284.39" y="1102.67" font-size="23.84" font-weight="normal" font-style="normal" fill="#4D4D4D" textLength="26.52" lengthAdjust="spacingAndGlyphs" >75</text>
<line x1="1324.4" y1="1187.35" x2="2035.2" y2="1187.35" stroke="#BEBEBE" stroke-width="1.3" />
<text x="1284.28" y="1195.55" font-size="23.84" font-weight="normal" font-style="normal" fill="#4D4D4D" textLength="26.52" lengthAdjust="spacingAndGlyphs" >50</text>
<line x1="1324.4" y1="1280.22" x2="2035.2" y2="1280.22" stroke="#BEBEBE" stroke-width="1.3" />
<text x="1284.39" y="1288.42" font-size="23.84" font-weight="normal" font-style="normal" fill="#4D4D4D" textLength="26.52" lengthAdjust="spacingAndGlyphs" >25</text>
<line x1="1324.4" y1="1373.1" x2="2035.2" y2="1373.1" stroke="#000" stroke-width="3.6" />
<text x="1297.5" y="1381.3" font-size="23.84" font-weight="normal" font-style="normal" fill="#4D4D4D" textLength="13.26" lengthAdjust="spacingAndGlyphs" >0</text>
<text x="1362.99" y="1404" font-size="23.84" font-weight="normal" font-style="normal" fill="#4D4D4D" textLength="60.97" lengthAdjust="spacingAndGlyphs" >18-19</text>
<text x="1477.37" y="1404" font-size="23.84" font-weight="normal" font-style="normal" fill="#4D4D4D" textLength="60.97" lengthAdjust="spacingAndGlyphs" >19-20</text>
<text x="1592.29" y="1404" font-size="23.84" font-weight="normal" font-style="normal" fill="#4D4D4D" textLength="60.97" lengthAdjust="spacingAndGlyphs" >20-21</text>
<text x="1706.85" y="1404" font-size="23.84" font-weight="normal" font-style="normal" fill="#4D4D4D" textLength="60.97" lengthAdjust="spacingAndGlyphs" >21-22</text>
<text x="1821.23" y="1404" font-size="23.84" font-weight="normal" font-style="normal" fill="#4D4D4D" textLength="60.97" lengthAdjust="spacingAndGlyphs" >22-23</text>
<text x="1935.55" y="1404" font-size="23.84" font-weight="normal" font-style="normal" fill="#4D4D4D" textLength="60.97" lengthAdjust="spacingAndGlyphs" >23-24</text>
<circle cx="1966.8" cy="1280.22" r="8" fill="#000" />
<text x="1509.67" y="969.1" font-size="37.06" font-weight="normal" font-style="normal" fill="#000" textLength="339.48" lengthAdjust="spacingAndGlyphs"  stroke="#000" stroke-width="0.78">Overall xPAR Percentile</text>
<line x1="1324.4" y1="1524.2" x2="2035.2" y2="1524.2" stroke="#BEBEBE" stroke-width="1.3" />
<text x="1271.05" y="1532.4" font-size="23.84" font-weight="normal" font-style="normal" fill="#4D4D4D" textLength="39.77" lengthAdjust="spacingAndGlyphs" >100</text>
<line x1="1324.4" y1="1615.65" x2="2035.2" y2="1615.65" stroke="#BEBEBE" stroke-width="1.3" />
<text x="1284.39" y="1623.85" font-size="23.84" font-weight="normal" font-style="normal" fill="#4D4D4D" textLength="26.52" lengthAdjust="spacingAndGlyphs" >75</text>
<line x1="1324.4" y1="1707.1" x2="2035.2" y2="1707.1" stroke="#BEBEBE" stroke-width="1.3" />
<text x="1284.28" y="1715.3" font-size="23.84" font-weight="normal" font-style="normal" fill="#4D4D4D" textLength="26.52" lengthAdjust="spacingAndGlyphs" >50</text>
<line x1="1324.4" y1="1798.55" x2="2035.2" y2="1798.55" stroke="#BEBEBE" stroke-width="1.3" />
<text x="1284.39" y="1806.75" font-size="23.84" font-weight="normal" font-style="normal" fill="#4D4D4D" textLength="26.52" lengthAdjust="spacingAndGlyphs" >25</text>
<line x1="1324.4" y1="1890" x2="2035.2" y2="1890" stroke="#000" stroke-width="3.6" />
<text x="1297.5" y="1898.2" font-size="23.84" font-weight="normal" font-style="normal" fill="#4D4D4D" textLength="13.26" lengthAdjust="spacingAndGlyphs" >0</text>
<text x="1362.99" y="1920.6" font-size="23.84" font-weight="normal" font-style="normal" fill="#4D4D4D" textLength="60.97" lengthAdjust="spacingAndGlyphs" >18-19</text>
<text x="1477.37" y="1920.6" font-size="23.84" font-weight="normal" font-style="normal" fill="#4D4D4D" textLength="60.97" lengthAdjust="spacingAndGlyphs" >19-20</text>
<text x="1592.29" y="1920.6" font-size="23.84" font-weight="normal" font-style="normal" fill="#4D4D4D" textLength="60.97" lengthAdjust="spacingAndGlyphs" >20-21</text>
<text x="1706.85" y="1920.6" font-size="23.84" font-weight="normal" font-style="normal" fill="#4D4D4D" textLength="60.97" lengthAdjust="spacingAndGlyphs" >21-22</text>
<text x="1821.23" y="1920.6" font-size="23.84" font-weight="normal" font-style="normal" fill="#4D4D4D" textLength="60.97" lengthAdjust="spacingAndGlyphs" >22-23</text>
<text x="1935.55" y="1920.6" font-size="23.84" font-weight="normal" font-style="normal" fill="#4D4D4D" textLength="60.97" lengthAdjust="spacingAndGlyphs" >23-24</text>
<circle cx="1966.8" cy="1751" r="8" fill="#0000EE" />
<circle cx="1966.8" cy="1809.52" r="8" fill="#EE0000" />
<circle cx="1966.8" cy="1838.79" r="8" fill="#7EC0E6" />
<text x="1390.62" y="1491.1" font-size="37.5" font-weight="normal" font-style="normal" fill="#0000CD" textLength="114.56" lengthAdjust="spacingAndGlyphs"  stroke="#0000CD" stroke-width="0.79">Offense</text>
<text x="1535.74" y="1491.1" font-size="37.5" font-weight="normal" font-style="normal" fill="#000" textLength="31.87" lengthAdjust="spacingAndGlyphs"  stroke="#000" stroke-width="0.79">vs</text>
<text x="1588.63" y="1491.1" font-size="37.5" font-weight="normal" font-style="normal" fill="#E0000F" textLength="119.64" lengthAdjust="spacingAndGlyphs"  stroke="#E0000F" stroke-width="0.79">Defense</text>
<text x="1734.84" y="1491.1" font-size="37.5" font-weight="normal" font-style="normal" fill="#000" textLength="31.46" lengthAdjust="spacingAndGlyphs"  stroke="#000" stroke-width="0.79">vs</text>
<text x="1786.95" y="1491.1" font-size="37.5" font-weight="normal" font-style="normal" fill="#80BFE0" textLength="132.82" lengthAdjust="spacingAndGlyphs"  stroke="#80BFE0" stroke-width="0.79">Finishing</text>
<text x="2484.93" y="297.2" font-size="37.79" font-weight="normal" font-style="normal" fill="#000" textLength="165.34" lengthAdjust="spacingAndGlyphs"  stroke="#000" stroke-width="0.79">Style Trend</text>
<line x1="2152.6" y1="360.6" x2="2984" y2="360.6" stroke="#BEBEBE" stroke-width="1.3" />
<text x="2096.73" y="368.9" font-size="24.27" font-weight="normal" font-style="normal" fill="#4D4D4D" textLength="40.5" lengthAdjust="spacingAndGlyphs" >100</text>
<line x1="2152.6" y1="611.17" x2="2984" y2="611.17" stroke="#BEBEBE" stroke-width="1.3" />
<text x="2110.33" y="619.47" font-size="24.27" font-weight="normal" font-style="normal" fill="#4D4D4D" textLength="27" lengthAdjust="spacingAndGlyphs" >75</text>
<line x1="2152.6" y1="861.75" x2="2984" y2="861.75" stroke="#BEBEBE" stroke-width="1.3" />
<text x="2110.21" y="870.05" font-size="24.27" font-weight="normal" font-style="normal" fill="#4D4D4D" textLength="27" lengthAdjust="spacingAndGlyphs" >50</text>
<line x1="2152.6" y1="1112.33" x2="2984" y2="1112.33" stroke="#BEBEBE" stroke-width="1.3" />
<text x="2110.33" y="1120.62" font-size="24.27" font-weight="normal" font-style="normal" fill="#4D4D4D" textLength="27" lengthAdjust="spacingAndGlyphs" >25</text>
<line x1="2152.6" y1="1362.9" x2="2984" y2="1362.9" stroke="#000" stroke-width="3.6" />
<text x="2123.68" y="1371.2" font-size="24.27" font-weight="normal" font-style="normal" fill="#4D4D4D" textLength="13.5" lengthAdjust="spacingAndGlyphs" >0</text>
<text x="2144.39" y="1399" font-size="24.27" font-weight="normal" font-style="normal" fill="#4D4D4D" textLength="62.08" lengthAdjust="spacingAndGlyphs" >21-22</text>
<text x="2389.17" y="1399" font-size="24.27" font-weight="normal" font-style="normal" fill="#4D4D4D" textLength="62.08" lengthAdjust="spacingAndGlyphs" >22-23</text>
<text x="2633.89" y="1399" font-size="24.27" font-weight="normal" font-style="normal" fill="#4D4D4D" textLength="62.08" lengthAdjust="spacingAndGlyphs" >23-24</text>
<line x1="2666" y1="510.94" x2="2856.3" y2="487.95" stroke="#1B9E77" stroke-width="2.2" />
<circle cx="2666" cy="510.94" r="7.5" fill="#1B9E77" />
<line x1="2666" y1="571.08" x2="2854" y2="545.35" stroke="#D95F02" stroke-width="2.2" />
<circle cx="2666" cy="571.08" r="7.5" fill="#D95F02" />
<line x1="2666" y1="591.13" x2="2870.5" y2="602.25" stroke="#4A4A4A" stroke-width="2.2" />
<circle cx="2666" cy="591.13" r="7.5" fill="#4A4A4A" />
<line x1="2666" y1="621.2" x2="2856" y2="658.85" stroke="#666666" stroke-width="2.2" />
<circle cx="2666" cy="621.2" r="7.5" fill="#666666" />
<line x1="2666" y1="941.93" x2="2766.3" y2="941.75" stroke="#E69F00" stroke-width="2.2" />
<circle cx="2666" cy="941.93" r="7.5" fill="#E69F00" />
<line x1="2666" y1="1152.42" x2="2776.7" y2="1127" stroke="#5AA01E" stroke-width="2.2" />
<circle cx="2666" cy="1152.42" r="7.5" fill="#5AA01E" />
<line x1="2666" y1="1172.46" x2="2776.7" y2="1183.7" stroke="#6560B0" stroke-width="2.2" />
<circle cx="2666" cy="1172.46" r="7.5" fill="#6560B0" />
<line x1="2666" y1="1182.49" x2="2699" y2="1237.2" stroke="#A0701D" stroke-width="2.2" />
<circle cx="2666" cy="1182.49" r="7.5" fill="#A0701D" />
<rect x="2856.3" y="469.4" width="110.4" height="37.1" rx="5" fill="#fff" stroke="#1B9E77" stroke-width="1.6" />
<text x="2866.84" y="495.95" font-size="23.69" font-weight="normal" font-style="normal" fill="#1B9E77" textLength="89.55" lengthAdjust="spacingAndGlyphs" >Creation</text>
<rect x="2854" y="527" width="113.4" height="36.7" rx="5" fill="#fff" stroke="#D95F02" stroke-width="1.6" />
<text x="2864.09" y="553.35" font-size="23.69" font-weight="normal" font-style="normal" fill="#D95F02" textLength="93.49" lengthAdjust="spacingAndGlyphs" >Crossing</text>
<rect x="2870.5" y="583.8" width="80.8" height="36.9" rx="5" fill="#fff" stroke="#4A4A4A" stroke-width="1.6" />
<text x="2880.52" y="610.25" font-size="23.69" font-weight="normal" font-style="normal" fill="#4A4A4A" textLength="60.58" lengthAdjust="spacingAndGlyphs" >Shots</text>
<rect x="2856" y="640.5" width="110" height="36.7" rx="5" fill="#fff" stroke="#666666" stroke-width="1.6" />
<text x="2866.34" y="666.85" font-size="23.69" font-weight="normal" font-style="normal" fill="#666666" textLength="89.53" lengthAdjust="spacingAndGlyphs" >Carrying</text>
<rect x="2766.3" y="923.4" width="208.6" height="36.7" rx="5" fill="#fff" stroke="#E69F00" stroke-width="1.6" />
<text x="2776.13" y="949.75" font-size="23.69" font-weight="normal" font-style="normal" fill="#E69F00" textLength="187" lengthAdjust="spacingAndGlyphs" >Passing Accuracy</text>
<rect x="2776.7" y="1108.6" width="198.3" height="36.8" rx="5" fill="#fff" stroke="#5AA01E" stroke-width="1.6" />
<text x="2786.71" y="1135" font-size="23.69" font-weight="normal" font-style="normal" fill="#5AA01E" textLength="177.8" lengthAdjust="spacingAndGlyphs" >Long Distribution</text>
<rect x="2776.7" y="1165.4" width="198.3" height="36.6" rx="5" fill="#fff" stroke="#6560B0" stroke-width="1.6" />
<text x="2787.36" y="1191.7" font-size="23.69" font-weight="normal" font-style="normal" fill="#6560B0" textLength="176.48" lengthAdjust="spacingAndGlyphs" >Defensive Action</text>
<rect x="2699" y="1222" width="276" height="36.4" rx="5" fill="#fff" stroke="#A0701D" stroke-width="1.6" />
<text x="2708.41" y="1248.2" font-size="23.69" font-weight="normal" font-style="normal" fill="#A0701D" textLength="255.48" lengthAdjust="spacingAndGlyphs" >Possession Involvement</text>
<text x="2629.74" y="1485.1" font-size="37.35" font-weight="normal" font-style="normal" fill="#000" textLength="215.73" lengthAdjust="spacingAndGlyphs"  stroke="#000" stroke-width="0.78">Similar Players</text>
<rect x="2514" y="1529.2" width="397.82" height="42.5" rx="0" fill="#F8848A" stroke="#000" stroke-width="2.6" />
<rect x="2874.12" y="1534.2" width="75.6" height="33.5" rx="5" fill="#fff" stroke="#000" stroke-width="1.4" />
<text x="2882.56" y="1558.6" font-size="20.64" font-weight="normal" font-style="normal" fill="#000" textLength="58.52" lengthAdjust="spacingAndGlyphs" >97.6%</text>
<text x="2313.91" y="1546.4" font-size="28.78" font-weight="normal" font-style="normal" fill="#000" textLength="164.06" lengthAdjust="spacingAndGlyphs"  stroke="#000" stroke-width="0.6">James McAtee</text>
<text x="2094.24" y="1575.8" font-size="28.78" font-weight="normal" font-style="normal" fill="#000" textLength="384.24" lengthAdjust="spacingAndGlyphs"  stroke="#000" stroke-width="0.6">(Sheffield United, Manchester City)</text>
<rect x="2514" y="1612.9" width="397" height="42.5" rx="0" fill="#F8858A" stroke="#000" stroke-width="2.6" />
<rect x="2873.3" y="1617.9" width="75.6" height="33.5" rx="5" fill="#fff" stroke="#000" stroke-width="1.4" />
<text x="2881.74" y="1642.3" font-size="20.64" font-weight="normal" font-style="normal" fill="#000" textLength="58.52" lengthAdjust="spacingAndGlyphs" >97.4%</text>
<text x="2355.72" y="1630.1" font-size="28.78" font-weight="normal" font-style="normal" fill="#000" textLength="122.72" lengthAdjust="spacingAndGlyphs"  stroke="#000" stroke-width="0.6">Ritsu Doan</text>
<text x="2369.61" y="1659.5" font-size="28.78" font-weight="normal" font-style="normal" fill="#000" textLength="108.9" lengthAdjust="spacingAndGlyphs"  stroke="#000" stroke-width="0.6">(Freiburg)</text>
<rect x="2514" y="1697.2" width="390.07" height="42.5" rx="0" fill="#F98C88" stroke="#000" stroke-width="2.6" />
<rect x="2866.37" y="1702.2" width="75.6" height="33.5" rx="5" fill="#fff" stroke="#000" stroke-width="1.4" />
<text x="2874.81" y="1726.6" font-size="20.64" font-weight="normal" font-style="normal" fill="#000" textLength="58.52" lengthAdjust="spacingAndGlyphs" >95.7%</text>
<text x="2284.15" y="1714.4" font-size="28.78" font-weight="normal" font-style="normal" fill="#000" textLength="194.42" lengthAdjust="spacingAndGlyphs"  stroke="#000" stroke-width="0.6">Nicolo Cambiaghi</text>
<text x="2386.1" y="1743.8" font-size="28.78" font-weight="normal" font-style="normal" fill="#000" textLength="92.36" lengthAdjust="spacingAndGlyphs"  stroke="#000" stroke-width="0.6">(Empoli)</text>
<rect x="2514" y="1781.3" width="388.85" height="42.5" rx="0" fill="#F98D88" stroke="#000" stroke-width="2.6" />
<rect x="2865.15" y="1786.3" width="75.6" height="33.5" rx="5" fill="#fff" stroke="#000" stroke-width="1.4" />
<text x="2873.59" y="1810.7" font-size="20.64" font-weight="normal" font-style="normal" fill="#000" textLength="58.52" lengthAdjust="spacingAndGlyphs" >95.4%</text>
<text x="2320.12" y="1798.5" font-size="28.78" font-weight="normal" font-style="normal" fill="#000" textLength="156.77" lengthAdjust="spacingAndGlyphs"  stroke="#000" stroke-width="0.6">Ansgar Knauff</text>
<text x="2257.85" y="1827.9" font-size="28.78" font-weight="normal" font-style="normal" fill="#000" textLength="220.57" lengthAdjust="spacingAndGlyphs"  stroke="#000" stroke-width="0.6">(Eintracht Frankfurt)</text>
<rect x="2514" y="1865.8" width="386.81" height="42.5" rx="0" fill="#F98E88" stroke="#000" stroke-width="2.6" />
<rect x="2863.11" y="1870.8" width="75.6" height="33.5" rx="5" fill="#fff" stroke="#000" stroke-width="1.4" />
<text x="2871.55" y="1895.2" font-size="20.64" font-weight="normal" font-style="normal" fill="#000" textLength="58.52" lengthAdjust="spacingAndGlyphs" >94.9%</text>
<text x="2312.8" y="1883" font-size="28.78" font-weight="normal" font-style="normal" fill="#000" textLength="164.1" lengthAdjust="spacingAndGlyphs"  stroke="#000" stroke-width="0.6">Shavy Babicka</text>
<text x="2362.66" y="1912.4" font-size="28.78" font-weight="normal" font-style="normal" fill="#000" textLength="115.83" lengthAdjust="spacingAndGlyphs"  stroke="#000" stroke-width="0.6">(Toulouse)</text>
<text x="60.8" y="1989.8" font-size="27.03" font-weight="normal" font-style="italic" fill="#000" textLength="352.15" lengthAdjust="spacingAndGlyphs"  stroke="#000" stroke-width="0.57">Source: Understat, Opta via FBref</text>
<text x="60.78" y="2029" font-size="27.03" font-weight="normal" font-style="italic" fill="#000" textLength="2891.3" lengthAdjust="spacingAndGlyphs"  stroke="#000" stroke-width="0.57">Notes: Created by @macro_football on 2024-06-01. All percentiles and metrics are relative to all players in the top 5 European leagues. Overall is the player's expected points above replacement (xPAR) percentile. Offense and Defense Impact percentiles and Z-Scores are</text>
<text x="60.42" y="2069.2" font-size="27.03" font-weight="normal" font-style="italic" fill="#000" textLength="2875.63" lengthAdjust="spacingAndGlyphs"  stroke="#000" stroke-width="0.57">the player's isolated impact on xGF and xGA (or GF and GA) per 90, controlling for teammates, opposition players, managers, score, situation, etc..., scaled relative to European Top 5 League average. Finishing (or Saving) Impact percentiles and Z-Scores are the player's</text>
<text x="61.14" y="2109" font-size="27.03" font-weight="normal" font-style="italic" fill="#000" textLength="2900.24" lengthAdjust="spacingAndGlyphs"  stroke="#000" stroke-width="0.57">impact on shot xG, relative to European Top 5 League average. Shot (or xG) Share is the share of the team's shots (or xG) that the player takes when on the field. Usage is the share of the team's xG that the player is responsible for when on the field via either shots or shot</text>
<text x="61.01" y="2148.8" font-size="27.03" font-weight="normal" font-style="italic" fill="#000" textLength="2898.17" lengthAdjust="spacingAndGlyphs"  stroke="#000" stroke-width="0.57">assists. Individual characteristics (i.e. dribbling and creating) are based on a dimensionality reduction of each player's micro-statistics (i.e. short pass attempts and interceptions). Player types (i.e. ball-playing defender) are based on a clustering analysis of every player's</text>
<text x="61.13" y="2189" font-size="27.03" font-weight="normal" font-style="italic" fill="#000" textLength="997.33" lengthAdjust="spacingAndGlyphs"  stroke="#000" stroke-width="0.57">individual characteristics. Player similarity scores are based on the same clustering analysis.</text>
</svg></body></html>
